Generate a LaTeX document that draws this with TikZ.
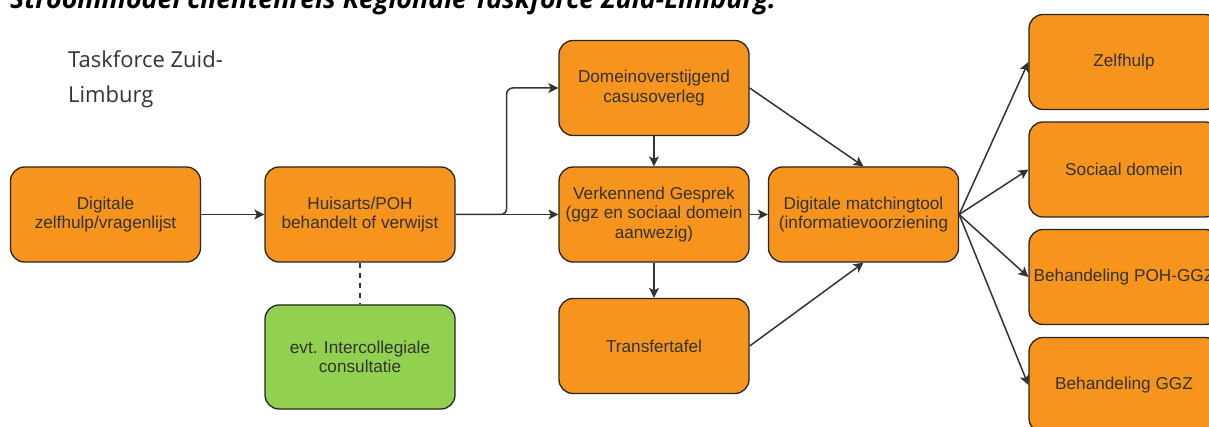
\documentclass[tikz,border=0pt]{standalone}
\usepackage{fontspec}
\setmainfont{Liberation Sans}
\newfontfamily\opensans{Open Sans}
\usetikzlibrary{arrows.meta}

\definecolor{oranje}{HTML}{F7941D}
\definecolor{groen}{HTML}{92D050}
\definecolor{donker}{HTML}{333333}

\begin{document}
\begin{tikzpicture}[x=1pt, y=-1pt,
    blok/.style={draw=black!85, line width=1.3pt, fill=oranje, rounded corners=14pt, minimum width=190pt, minimum height=95pt, align=center, text=donker, inner sep=2pt, font=\fontsize{17.2}{19.5}\selectfont},
    pijl/.style={draw=donker, line width=1.5pt, -{Stealth[length=10pt, width=10pt, inset=2.5pt]}}]
    \useasboundingbox (0,0) rectangle (1209,427);
    \clip (0,0) rectangle (1209,427);
    % Titels
    \node[anchor=base west, inner sep=0pt, font=\opensans\bfseries\itshape\fontsize{26.8}{30}\selectfont] (titel) at (10,9) {Stroommodel cliëntenreis Regionale Taskforce Zuid-Limburg.};
    \node[anchor=base west, inner sep=0pt, align=left, text=donker, font=\opensans\fontsize{22}{35}\selectfont] (taskforce) at (68,103) {Taskforce Zuid-\\Limburg};
    % Blokken
    \node[blok] at (105.5,214.5) (zelf) {Digitale\\zelfhulp/vragenlijst};
    \node[blok] at (360,214.5) (huisarts) {Huisarts/POH\\behandelt of verwijst};
    \node[blok, fill=groen, minimum height=104pt] at (360,357) (intercol) {evt. Intercollegiale\\consultatie};
    \node[blok] at (654,88) (domein) {Domeinoverstijgend\\casusoverleg};
    \node[blok] at (654,214.5) (gesprek) {Verkennend Gesprek\\(ggz en sociaal domein\\aanwezig)};
    \node[blok] at (654,346) (transfer) {Transfertafel};
    \node[blok] at (863.5,214.5) (matching) {Digitale matchingtool\\(informatievoorziening};
    \node[blok] at (1124,62) (zelfhulp) {Zelfhulp};
    \node[blok] at (1124,169.5) (sociaal) {Sociaal domein};
    \node[blok] at (1124,277) (pohggz) {Behandeling POH-GGZ};
    \node[blok] at (1124,385) (ggz) {Behandeling GGZ};
    % Pijlen
    \draw[pijl] (zelf) -- (huisarts);
    \draw[pijl] (huisarts) -- (gesprek);
    \draw[pijl, rounded corners=6pt] (huisarts.east) -- ++(51,0) |- (domein.west);
    \draw[draw=donker, line width=1.5pt, dash pattern=on 5pt off 5pt] (huisarts) -- (intercol);
    \draw[pijl] (domein) -- (gesprek);
    \draw[pijl] (gesprek) -- (transfer);
    \draw[pijl] (gesprek) -- (matching);
    \draw[pijl] (domein.east) -- (matching.north);
    \draw[pijl] (transfer.east) -- (matching.south);
    \foreach \doel in {zelfhulp, sociaal, pohggz, ggz}
        \draw[pijl] (matching.east) -- (\doel.west);
  \end{tikzpicture}
\end{document}
